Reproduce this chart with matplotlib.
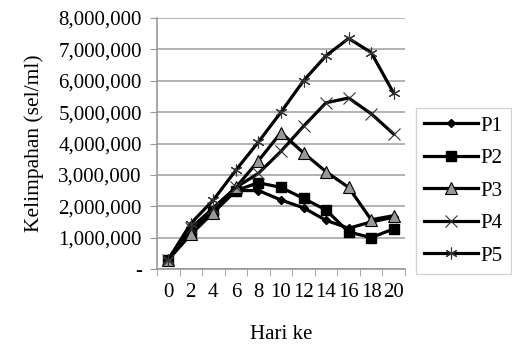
import numpy as np
import matplotlib.pyplot as plt
from matplotlib.ticker import FuncFormatter

plt.rcParams['font.family'] = ['Liberation Serif', 'DejaVu Serif']

# data
days = [0, 2, 4, 6, 8, 10, 12, 14, 16, 18, 20]
p1 = [300000, 1200000, 1800000, 2500000, 2500000, 2200000, 1950000, 1550000, 1300000, 1500000, 1650000]
p2 = [300000, 1150000, 1850000, 2500000, 2750000, 2600000, 2250000, 1880000, 1180000, 1000000, 1280000]
p3 = [300000, 1100000, 1800000, 2600000, 3450000, 4350000, 3700000, 3100000, 2600000, 1570000, 1700000]
p4 = [300000, 1300000, 1950000, 2600000, 3050000, 3750000, 4550000, 5300000, 5450000, 4950000, 4300000]
p5 = [300000, 1450000, 2200000, 3150000, 4050000, 5000000, 6000000, 6800000, 7350000, 6900000, 5600000]
labels = ['P1', 'P2', 'P3', 'P4', 'P5']


def ytick(v, pos):
    if v == 0:
        return '-'
    return '{:,.0f}'.format(v)


def main():
    fig = plt.figure(figsize=(5.12, 3.45), dpi=100)
    ax = fig.add_axes([0.3066, 0.2203, 0.4844, 0.7275])

    x = np.array(days)
    lw = 2.3
    ax.plot(x, p1, color='black', lw=lw, marker='D', ms=4.5, mfc='black', mec='black', label=labels[0])
    ax.plot(x, p2, color='black', lw=lw, marker='s', ms=7.5, mfc='black', mec='black', label=labels[1])
    ax.plot(x, p3, color='black', lw=lw, marker='^', ms=8, mfc='#999999', mec='black', mew=0.8, label=labels[2])
    ax.plot(x, p4, color='black', lw=lw, marker='x', ms=8.5, mec='#333333', mew=0.8, label=labels[3])
    ax.plot(x, p5, color='black', lw=lw, marker=(6, 2, 0), ms=8.5, mec='#333333', mew=0.8, label=labels[4])

    fs = 15
    ax.set_xlim(-1, 21)
    ax.set_ylim(0, 8000000)
    ax.set_yticks(np.arange(0, 8000001, 1000000))
    ax.yaxis.set_major_formatter(FuncFormatter(ytick))
    ax.set_xticks(days)
    ax.set_xticklabels([str(d) for d in days])
    ax.set_xticks(np.arange(-1, 22, 2), minor=True)
    ax.tick_params(axis='x', which='major', length=0, pad=10, labelsize=fs)
    ax.tick_params(axis='x', which='minor', length=5, color='#999999', direction='out')
    ax.tick_params(axis='y', length=5, color='#999999', labelsize=fs, pad=6)

    ax.yaxis.grid(True, color='#a6a6a6', lw=1.2)
    ax.set_axisbelow(True)
    for s in ['top', 'right']:
        ax.spines[s].set_visible(False)
    for s in ['left', 'bottom']:
        ax.spines[s].set_color('#999999')
        ax.spines[s].set_linewidth(1.2)

    ax.set_ylabel('Kelimpahan (sel/ml)', fontsize=15.5, labelpad=10)
    ax.set_xlabel('Hari ke', fontsize=fs, labelpad=17)

    fig.legend(loc='center left', bbox_to_anchor=(0.812, 0.447), fontsize=fs,
               frameon=True, fancybox=False, edgecolor='#c8c8c8', handlelength=2.6,
               handletextpad=0.1, labelspacing=0.62, borderpad=0.4, borderaxespad=0)

    plt.savefig('out.png', dpi=100)


if __name__ == '__main__':
    main()
